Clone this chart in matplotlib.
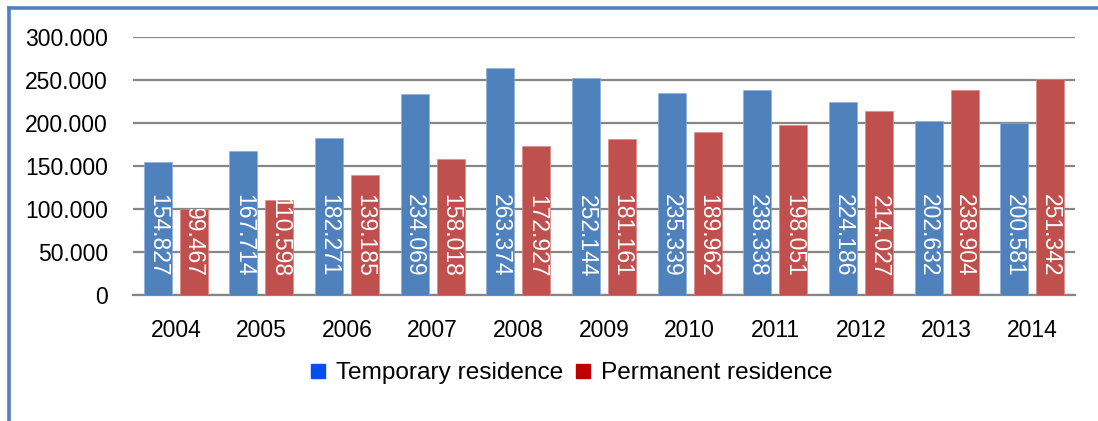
import matplotlib
matplotlib.use("Agg")
import matplotlib.pyplot as plt
from matplotlib.lines import Line2D
from matplotlib.ticker import FuncFormatter
import numpy as np

years = ["2004", "2005", "2006", "2007", "2008", "2009", "2010", "2011", "2012", "2013", "2014"]
temporary = [154827, 167714, 182271, 234069, 263374, 252144, 235339, 238338, 224186, 202632, 200581]
permanent = [99467, 110598, 139185, 158018, 172927, 181161, 189962, 198051, 214027, 238904, 251342]

plt.rcParams['font.family'] = ['Liberation Sans', 'DejaVu Sans']

fig = plt.figure(figsize=(10.98, 4.21), dpi=100)
ax = fig.add_axes([133 / 1098, 126 / 421, 942 / 1098, 258 / 421])

x = np.arange(len(years))
w = 0.327
off = 0.21
bars_t = ax.bar(x - off, temporary, w, color="#4F81BD", edgecolor="#8EAEDB", linewidth=0.5, zorder=3)
bars_p = ax.bar(x + off, permanent, w, color="#C0504D", edgecolor="#DA8B89", linewidth=0.5, zorder=3)

def fmt(v):
    return "{:,}".format(int(v)).replace(",", ".")

for bars, vals in [(bars_t, temporary), (bars_p, permanent)]:
    for b, v in zip(bars, vals):
        t = ax.annotate(fmt(v), (b.get_x() + b.get_width() / 2, 0), xytext=(0, 13),
                        textcoords="offset points", rotation=270, ha="center", va="bottom",
                        color="white", fontsize=16.5, zorder=4)
        t.set_clip_path(b)

ax.set_xlim(-0.5, len(years) - 0.5)
ax.set_ylim(0, 300000)
ax.set_yticks(range(0, 300001, 50000))
ax.yaxis.set_major_formatter(FuncFormatter(lambda v, p: "0" if v == 0 else fmt(v)))
ax.set_xticks(x)
ax.set_xticklabels(years)
ax.tick_params(axis="both", length=0, labelsize=16.5)
ax.tick_params(axis="y", pad=18)
ax.tick_params(axis="x", pad=17)
ax.grid(axis="y", color="#868686", linewidth=1.6, zorder=0)
for s in ["top", "right", "left"]:
    ax.spines[s].set_visible(False)
ax.spines["bottom"].set_color("#868686")
ax.spines["bottom"].set_linewidth(1.6)

handles = [Line2D([], [], marker="s", linestyle="none", markersize=9.5, color="#0050F0"),
           Line2D([], [], marker="s", linestyle="none", markersize=9.5, color="#C00000")]
fig.legend(handles, ["Temporary residence", "Permanent residence"], loc="center",
           bbox_to_anchor=(572 / 1098, 1 - 373 / 421), ncol=2, frameon=False, fontsize=17.6,
           handlelength=0.55, handletextpad=0.45, columnspacing=0.55)

# blue frame
fig.add_artist(Line2D([9 / 1098, 9 / 1098], [0, 1 - 8 / 421], color="#4F81BD", linewidth=2.6))
fig.add_artist(Line2D([9 / 1098, 1], [1 - 8 / 421, 1 - 8 / 421], color="#4F81BD", linewidth=2.6))

fig.savefig("out.png", dpi=100)
